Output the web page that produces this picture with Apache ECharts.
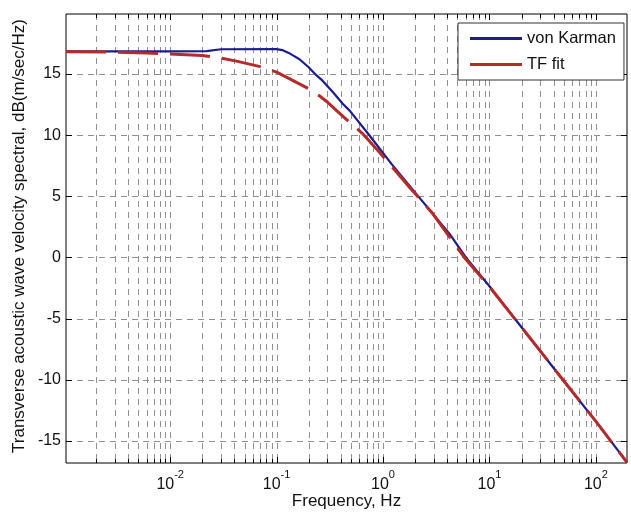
<!DOCTYPE html>
<html><head><meta charset="utf-8">
<script src="https://cdn.jsdelivr.net/npm/echarts@6/dist/echarts.min.js"></script>
<style>html,body{margin:0;padding:0;background:#fff}#c{width:631px;height:514px}</style>
</head><body><div id="c"></div>
<script>
// ---- data ----
const seriesNames = ['von Karman', 'TF fit'];
const vonKarmanFreq = [0.00105, 0.01, 0.022, 0.03, 0.1, 0.113, 0.13, 0.145, 0.164, 0.2, 0.236, 0.27, 0.339, 0.42, 0.486, 0.75, 1.2, 2.06, 4.24, 6.0, 10, 20, 50, 100, 196];
const vonKarmanDb   = [16.85, 16.85, 16.87, 17.02, 17.03, 16.95, 16.72, 16.48, 16.2, 15.55, 14.9, 14.45, 13.5, 12.55, 12.0, 9.95, 7.65, 5.18, 1.9, 0.0, -2.35, -5.7, -10.1, -13.4, -16.75];
const tfFitFreq = [0.00105, 0.003, 0.006, 0.0094, 0.02, 0.03, 0.042, 0.07, 0.1, 0.133, 0.2, 0.254, 0.295, 0.366, 0.65, 0.93, 1.78, 2.95, 5.8, 10, 20, 50, 100, 196];
const tfFitDb   = [16.82, 16.78, 16.72, 16.65, 16.5, 16.3, 16.05, 15.6, 15.15, 14.6, 13.8, 13.2, 12.75, 12.0, 10.08, 8.58, 5.72, 3.55, 0.0, -2.4, -5.7, -10.1, -13.4, -16.75];
const xMajorTicks = [0.01, 0.1, 1, 10, 100];
const yTickValues = [-15, -10, -5, 0, 5, 10, 15];
const xRange = [0.00105, 196];
const yRange = [-16.8, 19.9];
const xAxisName = 'Frequency, Hz';
const yAxisName = 'Transverse acoustic wave velocity spectral, dB(m/sec/Hz)';

// ---- build ----
const FONT = '"Liberation Sans", Arial, sans-serif';
const TXT = '#111';
const xMinorTicks = [];
for (let d = -3; d <= 2; d++) {
  for (let m = 2; m <= 9; m++) {
    const v = m * Math.pow(10, d);
    if (v > xRange[0] && v < xRange[1]) xMinorTicks.push(v);
  }
}
const vData = xMajorTicks.map(v => [v, yRange[0], 1]).concat(xMinorTicks.map(v => [v, yRange[0], 0]));
const hData = yTickValues.map(v => [xRange[0], v]);
const zip = (a, b) => a.map((v, i) => [v, b[i]]);
const crisp = v => Math.round(v) + 0.5;
const GRID = {stroke: '#909090', lineWidth: 1, lineDash: [6, 5]};
const TICK = {stroke: '#000', lineWidth: 1};

function vRender(params, api) {
  const x = api.value(0);
  const major = api.value(2);
  const top = api.coord([x, yRange[1]]);
  const bot = api.coord([x, yRange[0]]);
  const px = crisp(top[0]);
  const tl = major ? 6 : 4;
  return {type: 'group', children: [
    {type: 'line', shape: {x1: px, y1: top[1], x2: px, y2: bot[1]}, style: GRID},
    {type: 'line', shape: {x1: px, y1: bot[1], x2: px, y2: bot[1] - tl}, style: TICK},
    {type: 'line', shape: {x1: px, y1: top[1], x2: px, y2: top[1] + tl}, style: TICK}
  ]};
}
function hRender(params, api) {
  const y = api.value(1);
  const l = api.coord([xRange[0], y]);
  const r = api.coord([xRange[1], y]);
  const py = crisp(l[1]);
  return {type: 'group', children: [
    {type: 'line', shape: {x1: l[0], y1: py, x2: r[0], y2: py}, style: GRID},
    {type: 'line', shape: {x1: l[0], y1: py, x2: l[0] + 6, y2: py}, style: TICK},
    {type: 'line', shape: {x1: r[0], y1: py, x2: r[0] - 6, y2: py}, style: TICK}
  ]};
}

const chart = echarts.init(document.getElementById('c'), null, {renderer: 'canvas'});
chart.setOption({
  animation: false,
  backgroundColor: '#fff',
  textStyle: {fontFamily: FONT},
  grid: {left: 66, right: 4, top: 14, bottom: 51, show: true, borderColor: '#000', borderWidth: 1, backgroundColor: 'transparent', containLabel: false, outerBoundsMode: 'none'},
  xAxis: {
    type: 'log', logBase: 10, min: xRange[0], max: xRange[1],
    splitLine: {show: false}, axisTick: {show: false}, axisLine: {show: false}, minorTick: {show: false},
    axisLabel: {
      margin: 14, color: TXT, fontFamily: FONT, fontSize: 16,
      formatter: function (v) {
        const e = Math.log10(v);
        const r = Math.round(e);
        if (Math.abs(e - r) > 1e-6 || r === -3) return '';
        return '{b|10}{sup|' + r + '}';
      },
      rich: {
        b: {fontSize: 16, fontFamily: FONT, color: TXT, lineHeight: 16},
        sup: {fontSize: 11, fontFamily: FONT, color: TXT, lineHeight: 11, padding: [0, 0, 21, 0]}
      }
    },
    name: xAxisName, nameLocation: 'middle', nameGap: 30, nameMoveOverlap: false,
    nameTextStyle: {fontSize: 17, color: TXT, fontFamily: FONT}
  },
  yAxis: {
    type: 'value', min: yRange[0], max: yRange[1],
    splitLine: {show: false}, axisTick: {show: false}, axisLine: {show: false},
    axisLabel: {customValues: yTickValues, margin: 5, fontSize: 16, color: TXT, fontFamily: FONT},
    name: yAxisName, nameLocation: 'middle', nameGap: 38, nameMoveOverlap: false,
    nameTextStyle: {fontSize: 17, color: TXT, fontFamily: FONT, padding: [0, 0, 0, 5]}
  },
  legend: {
    orient: 'vertical', left: 458, top: 23, padding: [7, 8, 7, 12], itemGap: 9,
    itemWidth: 52, itemHeight: 3, borderColor: '#333', borderWidth: 1, borderRadius: 0,
    backgroundColor: '#fff',
    textStyle: {fontSize: 16.5, color: TXT, fontFamily: FONT, lineHeight: 16},
    data: [
      {name: seriesNames[0], icon: 'rect'},
      {name: seriesNames[1], icon: 'rect'}
    ]
  },
  series: [
    {type: 'custom', name: 'vgrid', renderItem: vRender, data: vData, encode: {x: 0, y: 1}, z: 1, silent: true},
    {type: 'custom', name: 'hgrid', renderItem: hRender, data: hData, encode: {x: 0, y: 1}, z: 1, silent: true},
    {type: 'line', name: seriesNames[0], data: zip(vonKarmanFreq, vonKarmanDb), symbol: 'none', smooth: false,
     lineStyle: {color: '#1c1c8f', width: 2.2}, itemStyle: {color: '#1c1c8f'}, z: 3},
    {type: 'line', name: seriesNames[1], data: zip(tfFitFreq, tfFitDb), symbol: 'none', smooth: false,
     lineStyle: {color: '#b52a2a', width: 3, type: [40, 12]}, itemStyle: {color: '#b52a2a'}, z: 4}
  ]
});
</script>
</body></html>
